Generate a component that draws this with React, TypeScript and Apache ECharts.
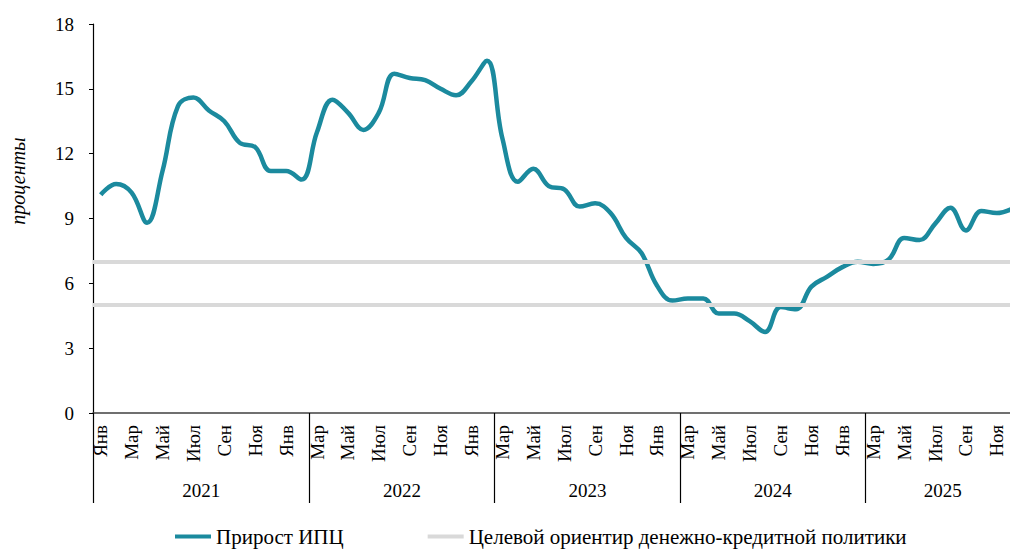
import React, { useEffect, useRef } from "react";
import * as echarts from "echarts";

const MONTHS = ["Янв", "Фев", "Мар", "Апр", "Май", "Июн", "Июл", "Авг", "Сен", "Окт", "Ноя", "Дек"];
const MONTH_COUNT = 60; // Jan 2021 .. Dec 2025
const CATEGORIES = Array.from({ length: MONTH_COUNT }, (_, i) => MONTHS[i % 12]);

const YEAR_LABELS = ["2021", "2022", "2023", "2024", "2025"];
const YEAR_GROUP_SIZES = [14, 12, 12, 12, 10];

const CPI = [
  10.1, 10.6, 10.2, 8.8, 11.2, 14.2, 14.6, 14.0, 13.5, 12.5, 12.3, 11.2,
  11.2, 10.8, 13.0, 14.5, 13.9, 13.1, 13.9, 15.7, 15.5, 15.4, 15.0, 14.7,
  15.35, 16.3, 12.7, 10.7, 11.3, 10.5, 10.35, 9.55, 9.7, 9.25, 8.1, 7.4,
  5.9, 5.2, 5.3, 5.3, 4.6, 4.6, 4.25, 3.75, 4.9, 4.8, 5.85, 6.3,
  6.75, 7.0, 6.9, 7.1, 8.1, 8.0, 8.75, 9.5, 8.45, 9.35, 9.25, 9.45,
];

const TARGET_BAND = [7, 5];
const Y_TICKS = [0, 3, 6, 9, 12, 15, 18];

const FONT = "'Liberation Serif', 'Times New Roman', serif";

export default function App() {
  const ref = useRef<HTMLDivElement>(null);

  useEffect(() => {
    if (!ref.current) return;
    const chart = echarts.init(ref.current, undefined, { renderer: "svg" });

    const boundaries: number[] = [];
    const centers: number[] = [];
    let acc = 0;
    YEAR_GROUP_SIZES.forEach((s) => {
      boundaries.push(acc);
      centers.push(acc + s / 2);
      acc += s;
    });

    const gridLeft = 93;
    const band = 15.45;

    chart.setOption({
      animation: false,
      textStyle: { fontFamily: FONT },
      grid: {
        left: gridLeft,
        top: 24,
        width: band * MONTH_COUNT,
        height: 389,
        containLabel: false,
      },
      xAxis: [
        {
          type: "category",
          data: CATEGORIES,
          boundaryGap: true,
          axisLine: { show: true, lineStyle: { color: "#404040", width: 1.5 } },
          axisTick: { show: false },
          axisLabel: {
            interval: 1,
            rotate: 90,
            margin: 12,
            color: "#000",
            fontSize: 19,
            fontFamily: FONT,
          },
          splitLine: { show: false },
        },
        {
          type: "value",
          min: 0,
          max: MONTH_COUNT,
          position: "bottom",
          axisLine: { show: false },
          axisTick: {
            show: true,
            customValues: boundaries,
            length: 90,
            lineStyle: { color: "#000", width: 1.2 },
          },
          axisLabel: {
            show: true,
            customValues: centers,
            margin: 68,
            color: "#000",
            fontSize: 19,
            fontFamily: FONT,
            formatter: (v: number) => {
              const idx = centers.findIndex((c) => Math.abs(c - v) < 1e-6);
              return idx >= 0 ? YEAR_LABELS[idx] : "";
            },
          },
          splitLine: { show: false },
        },
      ],
      yAxis: {
        type: "value",
        min: Y_TICKS[0],
        max: Y_TICKS[Y_TICKS.length - 1],
        interval: 3,
        axisLine: { show: true, lineStyle: { color: "#000", width: 1.2 } },
        axisTick: { show: true, length: 4, lineStyle: { color: "#000" } },
        axisLabel: { color: "#000", fontSize: 19, margin: 19, fontFamily: FONT },
        splitLine: { show: false },
      },
      legend: {
        left: 170,
        top: 521,
        icon: "rect",
        itemWidth: 36,
        itemHeight: 4,
        itemGap: 84,
        textStyle: { color: "#000", fontSize: 21, fontFamily: FONT },
        data: ["Прирост ИПЦ", "Целевой ориентир денежно-кредитной политики"],
      },
      graphic: [
        {
          type: "text",
          x: 18,
          y: 181,
          rotation: Math.PI / 2,
          style: {
            text: "проценты",
            fontSize: 20,
            fontStyle: "italic",
            fontFamily: FONT,
            fill: "#000",
            textAlign: "center",
            textVerticalAlign: "middle",
          },
        },
      ],
      series: [
        {
          name: "Прирост ИПЦ",
          type: "line",
          data: CPI,
          smooth: 0.4,
          symbol: "none",
          color: "#1b8a9e",
          lineStyle: { color: "#1b8a9e", width: 4.5 },
          z: 2,
        },
        {
          name: "Целевой ориентир денежно-кредитной политики",
          type: "line",
          data: [],
          symbol: "none",
          color: "#d9d9d9",
          lineStyle: { color: "#d9d9d9", width: 4 },
          z: 3,
          markLine: {
            silent: true,
            symbol: "none",
            label: { show: false },
            lineStyle: { color: "#d9d9d9", width: 4, type: "solid" },
            data: TARGET_BAND.map((v) => ({ yAxis: v })),
          },
        },
      ],
    });

    return () => chart.dispose();
  }, []);

  return (
    <div style={{ position: "absolute", left: 0, top: 0, width: 1010, height: 550, overflow: "hidden" }}>
      <div ref={ref} style={{ width: 1060, height: 550 }} />
    </div>
  );
}
